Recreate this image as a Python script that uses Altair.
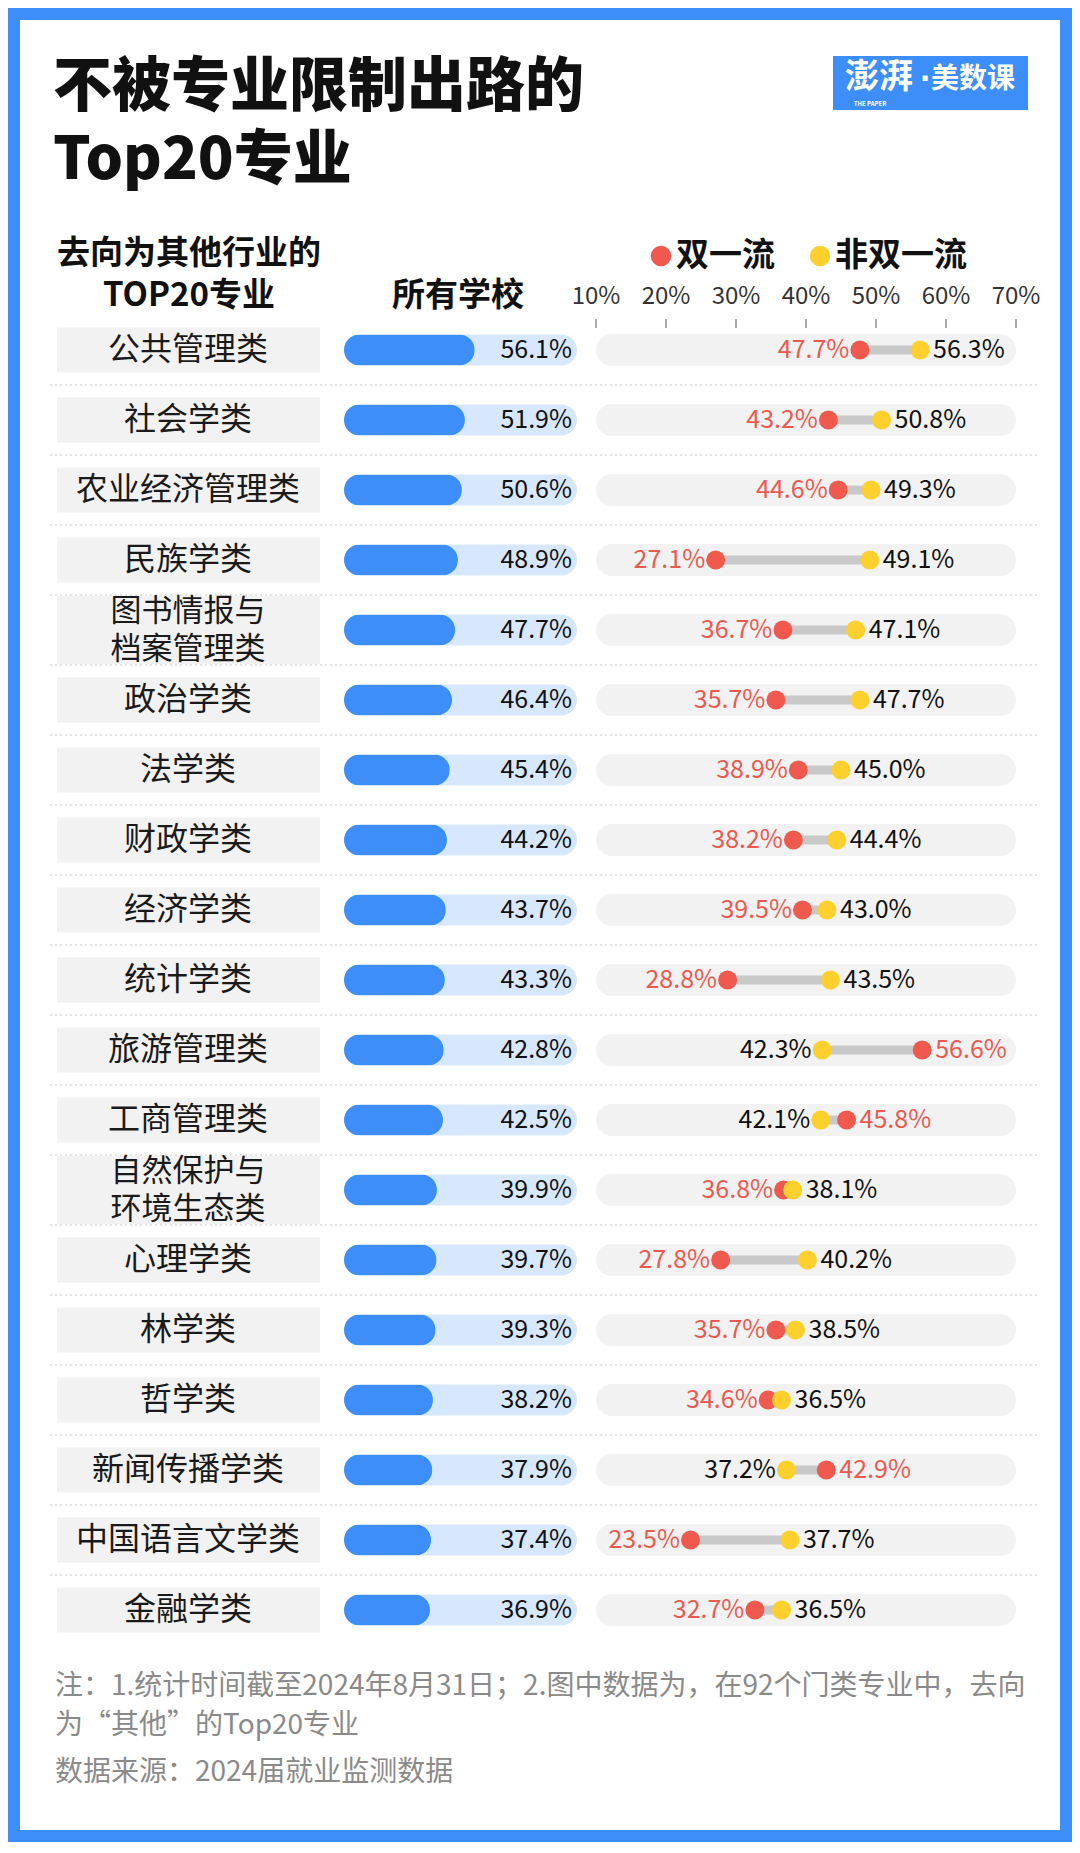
import altair as alt
import pandas as pd

# ---------------- data ----------------
categories = [
    "公共管理类", "社会学类", "农业经济管理类", "民族学类", "图书情报与\n档案管理类",
    "政治学类", "法学类", "财政学类", "经济学类", "统计学类",
    "旅游管理类", "工商管理类", "自然保护与\n环境生态类", "心理学类", "林学类",
    "哲学类", "新闻传播学类", "中国语言文学类", "金融学类",
]
all_schools = [56.1, 51.9, 50.6, 48.9, 47.7, 46.4, 45.4, 44.2, 43.7, 43.3,
               42.8, 42.5, 39.9, 39.7, 39.3, 38.2, 37.9, 37.4, 36.9]
shuangyiliu = [47.7, 43.2, 44.6, 27.1, 36.7, 35.7, 38.9, 38.2, 39.5, 28.8,
               56.6, 45.8, 36.8, 27.8, 35.7, 34.6, 42.9, 23.5, 32.7]
fei_shuangyiliu = [56.3, 50.8, 49.3, 49.1, 47.1, 47.7, 45.0, 44.4, 43.0, 43.5,
                   42.3, 42.1, 38.1, 40.2, 38.5, 36.5, 37.2, 37.7, 36.5]
tick_values = [10, 20, 30, 40, 50, 60, 70]
tick_labels = ["10%", "20%", "30%", "40%", "50%", "60%", "70%"]

title_lines = ["不被专业限制出路的", "Top20专业"]
legend_names = ["双一流", "非双一流"]
header_left = ["去向为其他行业的", "TOP20专业"]
header_mid = "所有学校"
note_lines = ["注：1.统计时间截至2024年8月31日；2.图中数据为，在92个门类专业中，去向",
              "为“其他”的Top20专业"]
source_line = "数据来源：2024届就业监测数据"
logo_parts = ["澎湃", "·", "美数课"]

# ---------------- styles ----------------
FONT = "Noto Sans CJK SC"
BLUE = "#3d8ef8"
RED = "#f05a4e"
RED_TXT = "#ec5a4f"
YEL = "#fdd02e"
GREY_BG = "#f2f2f2"
W, H = 1040, 1810

df = pd.DataFrame({"cat": categories, "all": all_schools,
                   "red": shuangyiliu, "yel": fei_shuangyiliu})

yscale = alt.Scale(type="point", domain=categories, range=[330, 1590], padding=0)
Y = alt.Y("cat:N", scale=yscale, axis=None, sort=categories)
bar_x = alt.Scale(domain=[0, 100], range=[324, 557], nice=False, zero=True)
dumb_x = alt.Scale(domain=[10, 70], range=[576, 996], nice=False, zero=False)

base = alt.Chart(df)
single = "indexof(datum.cat, '\\n') < 0"
double = "indexof(datum.cat, '\\n') >= 0"


def text_layer(text, x, y, size, weight="normal", color="#111111", align="left", font=FONT):
    return alt.Chart(pd.DataFrame({"t": [text]})).mark_text(
        align=align, baseline="middle", fontSize=size, fontWeight=weight,
        color=color, font=font
    ).encode(x=alt.value(x), y=alt.value(y), text="t:N")


# separators
separators = base.transform_window(row="row_number()").transform_filter(
    "datum.row < %d" % len(categories)
).mark_rule(strokeDash=[2, 3], color="#cccccc", strokeWidth=1, yOffset=35).encode(
    x=alt.value(30), x2=alt.value(1017), y=Y
)

# category boxes
box1 = base.transform_filter(single).mark_bar(
    size=45, color=GREY_BG).encode(x=alt.value(37), x2=alt.value(300), y=Y)
box2 = base.transform_filter(double).mark_bar(
    size=68, color=GREY_BG).encode(x=alt.value(37), x2=alt.value(300), y=Y)
cat_text1 = base.transform_filter(single).mark_text(
    fontSize=32, font=FONT, baseline="middle", align="center", color="#1a1a1a"
).encode(x=alt.value(168), y=Y, text="cat:N")
cat_text2 = base.transform_filter(double).mark_text(
    fontSize=31, font=FONT, lineBreak="\n", lineHeight=38, baseline="middle",
    align="center", color="#1a1a1a", dy=-18.5
).encode(x=alt.value(168), y=Y, text="cat:N")

# all-schools bars
bar_bg = base.mark_bar(size=31, cornerRadius=15.5, color="#d6e7fe").encode(
    x=alt.XDatum(0, scale=bar_x, axis=None), x2=alt.X2Datum(100), y=Y)
bar_fg = base.mark_bar(size=31, cornerRadius=15.5, color=BLUE).encode(
    x=alt.X("all:Q", scale=bar_x, axis=None), y=Y)
bar_lab = base.transform_calculate(lab="format(datum.all, '.1f') + '%'").mark_text(
    align="right", baseline="middle", fontSize=25, font=FONT, color="#111111"
).encode(x=alt.value(552), y=Y, text="lab:N")

# dumbbell
track = base.mark_bar(size=32, cornerRadius=16, color=GREY_BG).encode(
    x=alt.XDatum(10, scale=dumb_x, axis=None), x2=alt.X2Datum(70), y=Y)
connector = base.mark_rule(strokeWidth=9, color="#c9c9c9").encode(
    x=alt.X("red:Q", scale=dumb_x, axis=None), x2="yel:Q", y=Y)
dot_red = base.mark_circle(size=360, color=RED, opacity=1).encode(
    x=alt.X("red:Q", scale=dumb_x, axis=None), y=Y)
dot_yel = base.mark_circle(size=360, color=YEL, opacity=1).encode(
    x=alt.X("yel:Q", scale=dumb_x, axis=None), y=Y)

long = base.transform_calculate(lo="min(datum.red, datum.yel)").transform_fold(
    ["red", "yel"], as_=["key", "value"]
).transform_calculate(lab="format(datum.value, '.1f') + '%'")
lab_color = alt.condition(alt.datum.key == "red", alt.value(RED_TXT), alt.value("#111111"))
lab_left = long.transform_filter("datum.value == datum.lo").mark_text(
    align="right", baseline="middle", fontSize=25, font=FONT, dx=-10.5
).encode(x=alt.X("value:Q", scale=dumb_x, axis=None), y=Y, text="lab:N", color=lab_color)
lab_right = long.transform_filter("datum.value != datum.lo").mark_text(
    align="left", baseline="middle", fontSize=25, font=FONT, dx=13
).encode(x=alt.X("value:Q", scale=dumb_x, axis=None), y=Y, text="lab:N", color=lab_color)

# axis ticks / labels
tick_df = pd.DataFrame({"v": tick_values, "label": tick_labels})
ticks = alt.Chart(tick_df).mark_rule(color="#555555", strokeWidth=1).encode(
    x=alt.X("v:Q", scale=dumb_x, axis=None), y=alt.value(299), y2=alt.value(308))
tick_text = alt.Chart(tick_df).mark_text(
    fontSize=24, font=FONT, baseline="middle", color="#333333"
).encode(x=alt.X("v:Q", scale=dumb_x, axis=None), y=alt.value(277), text="label:N")

# legend
leg_red = alt.Chart(pd.DataFrame({"k": [legend_names[0]]})).mark_circle(
    size=420, color=RED, opacity=1).encode(x=alt.value(641), y=alt.value(236))
leg_yel = alt.Chart(pd.DataFrame({"k": [legend_names[1]]})).mark_circle(
    size=420, color=YEL, opacity=1).encode(x=alt.value(800), y=alt.value(236))
leg_t1 = text_layer(legend_names[0], 656, 236, 33, "bold")
leg_t2 = text_layer(legend_names[1], 815, 236, 33, "bold")

# headers
hdr1 = text_layer(header_left[0], 169, 234, 33, "bold", align="center")
hdr2 = text_layer(header_left[1], 169, 276, 33, "bold", align="center")
hdr3 = text_layer(header_mid, 438, 276, 33, "bold", align="center")

# title
t1 = text_layer(title_lines[0], 33, 68, 59, 900, color="#111111")
t2 = text_layer(title_lines[1], 33, 141, 59, 900, color="#111111")

# logo
logo_box = alt.Chart(pd.DataFrame({"k": ["logo"]})).mark_rect(color=BLUE).encode(
    x=alt.value(813), x2=alt.value(1008), y=alt.value(36), y2=alt.value(90))
logo_a = text_layer(logo_parts[0], 859, 58, 34, "bold", color="#ffffff", align="center")
logo_dot = text_layer(logo_parts[1], 905, 60, 28, "bold", color="#ffffff", align="center",
                      font="DejaVu Sans")
logo_b = text_layer(logo_parts[2], 953, 60, 28, "bold", color="#ffffff", align="center")
logo_s = text_layer("THE PAPER", 850, 84, 6, "bold", color="#ffffff", align="center")

# notes
n1 = text_layer(note_lines[0], 35, 1667, 28, color="#8a8a8a")
n2 = text_layer(note_lines[1], 35, 1706, 28, color="#8a8a8a")
n3 = text_layer(source_line, 35, 1753, 28, color="#8a8a8a")

chart = alt.layer(
    separators, box1, box2, cat_text1, cat_text2,
    bar_bg, bar_fg, bar_lab,
    track, connector, dot_red, dot_yel, lab_left, lab_right,
    ticks, tick_text,
    leg_red, leg_yel, leg_t1, leg_t2,
    hdr1, hdr2, hdr3, t1, t2,
    logo_box, logo_a, logo_dot, logo_b, logo_s,
    n1, n2, n3,
).resolve_scale(x="independent", color="independent").properties(
    width=W, height=H, autosize=alt.AutoSizeParams(type="none"),
    padding=12, background=BLUE
).configure_view(fill="#ffffff", stroke=None)

chart.save("out.html", embed_options={"renderer": "svg", "actions": False})
